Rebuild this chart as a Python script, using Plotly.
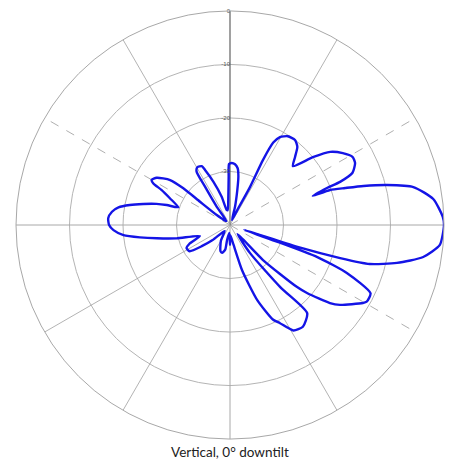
import plotly.graph_objects as go

# Radiation pattern (angle in degrees, counter-clockwise from horizon; level in dB)
pattern_theta = [0, 2.2, 7.3, 11.7, 14.3, 16.3, 17.8, 19.3, 19.4,
                 20.9, 21.4, 23.1, 26.4, 29.1, 32.5, 36.1, 39.3, 43.1,
                 46.3, 49.3, 52.6, 56.9, 60.4, 62.3, 63.1, 62.2, 64, 68,
                 74.7, 78.2, 80.2, 82.3, 85.3, 88.4, 90.9, 91.6, 93.4, 98.9,
                 102.5, 106.4, 111, 114.4, 115.6, 119.5, 122, 123.1, 126, 132,
                 140, 143, 142.2, 141.8, 143.1, 147.2, 150.1, 151.5, 152.9, 156, 161.1,
                 162.5, 164, 166.4, 168.7, 171, 173.6, 176.8, 180, 182.5, 185.4, 187.8, 190.3, 194, 200.1,
                 205, 208, 213, 217, 221, 228, 240, 250, 254, 259, 259, 265, 270, 272,
                 280, 285, 290, 294.4, 297, 301, 305.6, 311.2, 309, 305.5, 310,
                 313.3, 317.2, 318.6, 322, 324, 329.6, 330.7, 334.1, 337.7, 339.8, 340.5, 341,
                 341.6, 342, 343.3, 344.4, 347.2, 350.6, 354.6, 360]
pattern_db = [0.0, -0.2, -1.7, -5.0, -9.7, -14.0, -17.4, -20.2, -23.6,
              -20.6, -17.9, -15.1, -13.9, -13.8, -15.0, -16.8, -20.0, -23.9,
              -22.4, -20.7, -20.0, -20.2, -21.1, -22.6, -26.4, -32.0, -37.0, -39.0,
              -36.4, -33.3, -30.8, -29.3, -28.6, -28.4, -28.6, -31.0, -34.7, -37.2,
              -37.1, -34.5, -31.3, -28.7, -27.8, -27.6, -28.2, -31.4, -35.8, -39.0,
              -38.5, -36.9, -32.9, -28.9, -26.0, -23.7, -23.1, -23.7, -25.6, -27.7, -29.8,
              -27.6, -25.7, -23.3, -20.9, -18.9, -17.8, -17.2, -17.4, -18.2, -20.0, -23.0, -26.1, -29.7, -34.0,
              -31.6, -30.8, -31.0, -33.5, -35.7, -38.5, -36.6, -34.8, -34.6, -35.3, -37.2, -38.5, -36.3, -38.1,
              -36.3, -31.2, -25.0, -20.6, -19.4, -17.0, -16.6, -18.1, -25.0, -33.6, -37.8,
              -31.0, -23.0, -20.7, -16.3, -14.6, -11.2, -10.7, -10.8, -16.4, -22.6, -31.0, -37.2,
              -34.0, -26.9, -18.5, -12.9, -8.0, -3.4, -0.6, 0.0]

ring_values = [-30, -20, -10, 0]
ring_labels = ["-30", "-20", "-10", "0"]
spoke_angles = [0, 30, 60, 90, 120, 150, 180, 210, 240, 270, 300, 330]
dashed_spokes = [30, 150, 330]
r_min, r_max = -40, 0

fig = go.Figure()

# spokes (grid)
for a in spoke_angles:
    if a == 90:
        color, width, dash = "#6e6e6e", 1.3, "solid"
    elif a in (0, 180, 270):
        color, width, dash = "#a8a8a8", 1, "solid"
    elif a in dashed_spokes:
        color, width, dash = "#9a9a9a", 0.8, "dash"
    else:
        color, width, dash = "#a0a0a0", 0.8, "solid"
    fig.add_trace(go.Scatterpolar(theta=[a, a], r=[r_min, r_max], mode="lines",
                                  line=dict(color=color, width=width, dash=dash),
                                  hoverinfo="skip", showlegend=False))

# pattern
fig.add_trace(go.Scatterpolar(theta=pattern_theta, r=pattern_db, mode="lines",
                              line=dict(color="#1414e6", width=2.4, shape="spline", smoothing=0.6),
                              showlegend=False))

# ring labels along vertical axis
fig.add_trace(go.Scatterpolar(theta=[90] * len(ring_values), r=ring_values, mode="text",
                              text=ring_labels, textposition="middle left",
                              textfont=dict(size=6, color="#555555", family="Liberation Sans"),
                              hoverinfo="skip", showlegend=False))

# page body adds an 8px margin, so the figure is drawn 8px in from the corner
OFF = 8
W, H = 458 - OFF, 464 - OFF
cx, cy, R = 230 - OFF, 225 - OFF, 214
fig.update_layout(
    width=W, height=H,
    margin=dict(l=0, r=0, t=0, b=0),
    paper_bgcolor="white",
    polar=dict(
        domain=dict(x=[(cx - R) / W, (cx + R) / W], y=[1 - (cy + R) / H, 1 - (cy - R) / H]),
        bgcolor="white",
        radialaxis=dict(range=[r_min, r_max], tickvals=ring_values, showticklabels=False,
                        ticks="", showline=False, gridcolor="#b4b4b4", gridwidth=1, angle=90),
        angularaxis=dict(rotation=0, direction="counterclockwise", showgrid=False,
                         showticklabels=False, ticks="", showline=True,
                         linecolor="#a8a8a8", linewidth=1),
    ),
    annotations=[dict(text="Vertical, 0° downtilt", x=cx / W, y=1 - (452 - OFF) / H,
                      xref="paper", yref="paper", xanchor="center", yanchor="middle",
                      showarrow=False, font=dict(size=13.5, color="#222222", family="Lato"))],
)

fig.write_html("out.html")
